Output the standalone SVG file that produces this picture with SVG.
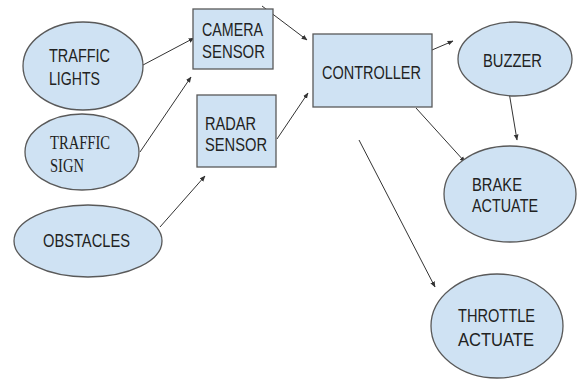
<svg xmlns="http://www.w3.org/2000/svg" width="579" height="379" viewBox="0 0 579 379">
<style>
.n{fill:#cfe2f3;stroke:#595959;stroke-width:1.3}
.t{font-family:"Liberation Sans",Arial,sans-serif;font-size:18px;fill:#222}
.s{font-family:"Liberation Serif","Times New Roman",serif;font-size:18px;fill:#222}
.c line{stroke:#333;stroke-width:1;marker-end:url(#a)}
</style>
<defs>
<marker id="a" viewBox="0 0 10 10" refX="9" refY="5" markerWidth="6" markerHeight="6" orient="auto" markerUnits="userSpaceOnUse">
<path d="M0,1 L10,5 L0,9 z" fill="#333"/>
</marker>
</defs>
<rect width="579" height="379" fill="#fff"/>
<g class="c" id="connectors">
<line x1="143" y1="65" x2="194" y2="38"/>
<line x1="140" y1="152" x2="191" y2="77"/>
<line x1="160" y1="227" x2="205" y2="176"/>
<line x1="262" y1="6" x2="307" y2="40"/>
<line x1="277" y1="139" x2="308" y2="93"/>
<line x1="432" y1="50" x2="453" y2="41"/>
<line x1="416" y1="108" x2="465" y2="162"/>
<line x1="507" y1="80" x2="517" y2="140"/>
<line x1="359" y1="140" x2="435" y2="287"/>
</g>
<g id="traffic-lights">
<ellipse class="n" cx="83" cy="66" rx="60" ry="44"/>
<text class="t" x="49" y="62" textLength="61" lengthAdjust="spacingAndGlyphs">TRAFFIC</text>
<text class="t" x="49" y="85" textLength="51" lengthAdjust="spacingAndGlyphs">LIGHTS</text>
</g>
<g id="traffic-sign">
<ellipse class="n" cx="82" cy="152" rx="57" ry="38"/>
<text class="s" x="50" y="149" textLength="60" lengthAdjust="spacingAndGlyphs">TRAFFIC</text>
<text class="s" x="50" y="172" textLength="34" lengthAdjust="spacingAndGlyphs">SIGN</text>
</g>
<g id="obstacles">
<ellipse class="n" cx="88" cy="241" rx="74" ry="36"/>
<text class="t" x="43" y="247" textLength="87" lengthAdjust="spacingAndGlyphs">OBSTACLES</text>
</g>
<g id="camera-sensor">
<rect class="n" x="193" y="9" width="80" height="60"/>
<text class="t" x="202" y="36" textLength="61" lengthAdjust="spacingAndGlyphs">CAMERA</text>
<text class="t" x="202" y="58" textLength="63" lengthAdjust="spacingAndGlyphs">SENSOR</text>
</g>
<g id="radar-sensor">
<rect class="n" x="197" y="95" width="79" height="72"/>
<text class="t" x="205" y="130" textLength="51" lengthAdjust="spacingAndGlyphs">RADAR</text>
<text class="t" x="205" y="151" textLength="62" lengthAdjust="spacingAndGlyphs">SENSOR</text>
</g>
<g id="controller">
<rect class="n" x="313" y="34" width="119" height="73"/>
<text class="t" x="322" y="79" textLength="99" lengthAdjust="spacingAndGlyphs">CONTROLLER</text>
</g>
<g id="buzzer">
<ellipse class="n" cx="515" cy="59" rx="57" ry="37"/>
<text class="t" x="483" y="67" textLength="59" lengthAdjust="spacingAndGlyphs">BUZZER</text>
</g>
<g id="brake-actuate">
<ellipse class="n" cx="510" cy="194" rx="66" ry="48"/>
<text class="t" x="472" y="191" textLength="50" lengthAdjust="spacingAndGlyphs">BRAKE</text>
<text class="t" x="472" y="212" textLength="66" lengthAdjust="spacingAndGlyphs">ACTUATE</text>
</g>
<g id="throttle-actuate">
<ellipse class="n" cx="497" cy="326" rx="66" ry="52"/>
<text class="t" x="458" y="322" textLength="77" lengthAdjust="spacingAndGlyphs">THROTTLE</text>
<text class="t" x="458" y="346" textLength="76" lengthAdjust="spacingAndGlyphs">ACTUATE</text>
</g>
</svg>
